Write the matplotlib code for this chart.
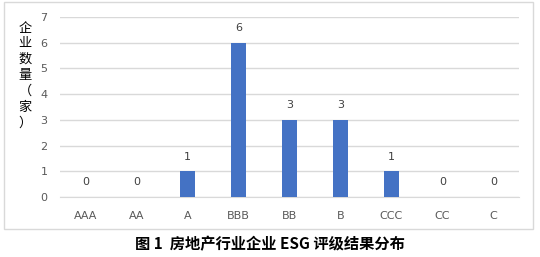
import matplotlib
matplotlib.use('Agg')
import matplotlib.pyplot as plt
from matplotlib.patches import Rectangle

plt.rcParams['font.family'] = ['Noto Sans CJK SC', 'DejaVu Sans']

# Data
grades = ['AAA', 'AA', 'A', 'BBB', 'BB', 'B', 'CCC', 'CC', 'C']
counts = [0, 0, 1, 6, 3, 3, 1, 0, 0]
y_ticks = [0, 1, 2, 3, 4, 5, 6, 7]
y_label = '企业数量（家）'
caption = '图 1  房地产行业企业 ESG 评级结果分布'

latin = ['DejaVu Sans']

fig = plt.figure(figsize=(5.4, 2.57), dpi=100)

# chart frame
fig.patches.append(Rectangle((4 / 540, 1 - 229 / 257), 529 / 540, 227 / 257,
                             transform=fig.transFigure, fill=False,
                             edgecolor='#D9D9D9', linewidth=1))

ax = fig.add_axes([60 / 540, 1 - 197 / 257, 459 / 540, 180 / 257])
x = range(len(grades))
ax.bar(x, counts, width=0.31, color='#4472C4', zorder=3)

for i, v in enumerate(counts):
    ax.annotate(str(v), (i, v), xytext=(0, 7), textcoords='offset points',
                ha='center', va='bottom', fontsize=8, color='#404040',
                family=latin)

ax.set_xlim(-0.5, len(grades) - 0.5)
ax.set_ylim(0, 7)
ax.set_yticks(y_ticks)
ax.set_xticks(list(x))
ax.set_xticklabels(grades)
for lbl in ax.get_xticklabels() + ax.get_yticklabels():
    lbl.set_family(latin)
ax.tick_params(axis='both', length=0, labelsize=8, labelcolor='#595959')
ax.tick_params(axis='x', pad=10)
ax.tick_params(axis='y', pad=9)
ax.grid(axis='y', color='#D9D9D9', linewidth=1, zorder=0)
for s in ['top', 'right', 'left']:
    ax.spines[s].set_visible(False)
ax.spines['bottom'].set_color('#D9D9D9')

# vertical stacked y label
for k, ch in enumerate(y_label):
    fig.text(25 / 540, 1 - (28 + k * 15.8) / 257, ch, ha='center', va='center',
             fontsize=9.5, color='#000000')

fig.text(0.5, 1 - 244 / 257, caption, ha='center', va='center',
         fontsize=11, fontweight='bold', color='#000000')

fig.savefig('out.png', dpi=100)
